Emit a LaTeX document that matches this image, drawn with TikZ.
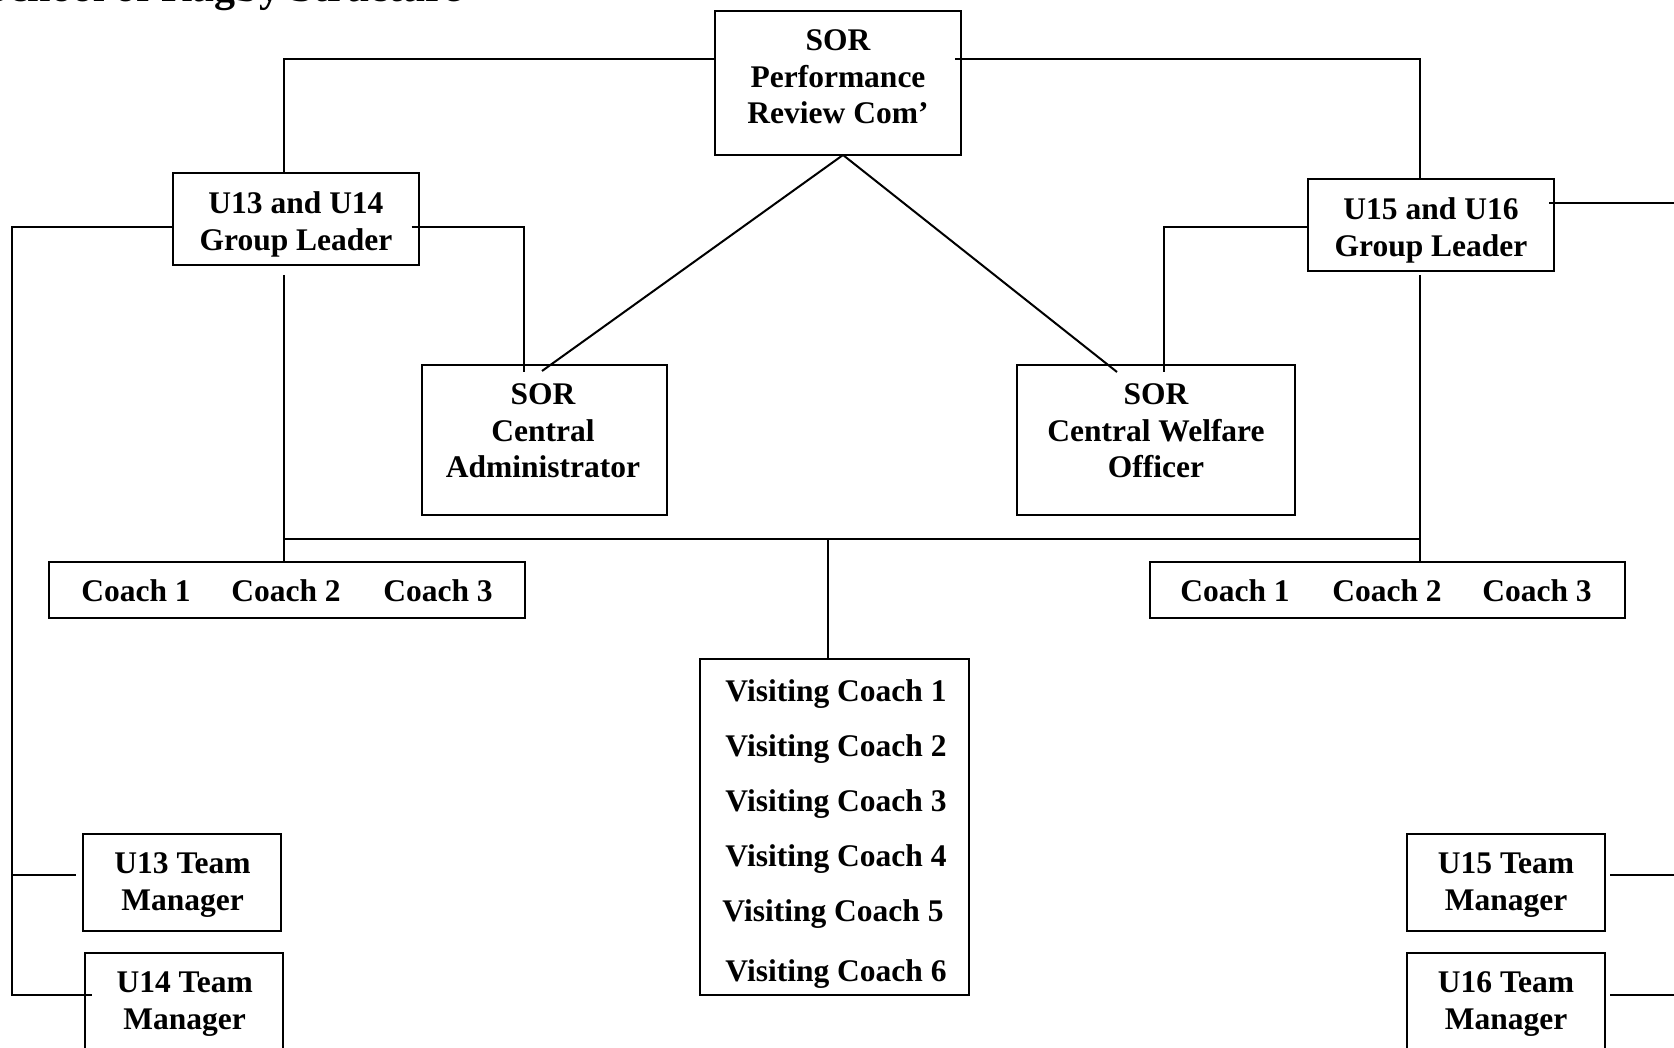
\documentclass[tikz,border=0pt]{standalone}
\usepackage{fontspec}
\setmainfont{Liberation Serif}
\begin{document}
\begin{tikzpicture}[x=1pt,y=-1pt,
  every node/.style={inner sep=0pt, outer sep=0pt, align=center,
    font=\bfseries\fontsize{31.5}{36.5}\selectfont},
  orgbox/.style={draw, line width=2pt, rectangle},
  label text/.style={anchor=north},
  line text/.style={anchor=base},
  link/.style={line width=2pt}]
\clip (0,0) rectangle (1674,1048);

% page heading (runs off the top edge)
\node[anchor=base west, font=\bfseries\fontsize{42}{48}\selectfont] (heading) at (-14,1.5) {School of Rugby Structure};

% ---- boxes ----
\node[orgbox, minimum width=246pt, minimum height=144pt] (perf) at (838,83) {};
\node[label text] (perftxt) at (838,30) {SOR\\Performance\\Review Com’};

\node[orgbox, minimum width=246pt, minimum height=92pt] (gl13) at (295.7,219) {};
\node[label text] (gl13txt) at (296,192) {U13 and U14\\Group Leader};

\node[orgbox, minimum width=246pt, minimum height=92pt] (gl15) at (1431,225) {};
\node[label text] (gl15txt) at (1431,198) {U15 and U16\\Group Leader};

\node[orgbox, minimum width=245pt, minimum height=150pt] (admin) at (544.5,440) {};
\node[label text] (admintxt) at (543,384) {SOR\\Central\\Administrator};

\node[orgbox, minimum width=278pt, minimum height=150pt] (welfare) at (1156,440) {};
\node[label text] (welfaretxt) at (1156,384) {SOR\\Central Welfare\\Officer};

% coach rows
\node[orgbox, minimum width=476pt, minimum height=56pt] (coachL) at (287,590) {};
\node[line text] (cl1) at (136,601) {Coach 1};
\node[line text] (cl2) at (286,601) {Coach 2};
\node[line text] (cl3) at (438,601) {Coach 3};

\node[orgbox, minimum width=475pt, minimum height=56pt] (coachR) at (1387.5,590) {};
\node[line text] (cr1) at (1235,601) {Coach 1};
\node[line text] (cr2) at (1387,601) {Coach 2};
\node[line text] (cr3) at (1537,601) {Coach 3};

% visiting coaches
\node[orgbox, minimum width=269pt, minimum height=336pt] (visit) at (834.5,827) {};
\node[line text] (v1) at (836,701) {Visiting Coach 1};
\node[line text] (v2) at (836,756) {Visiting Coach 2};
\node[line text] (v3) at (836,811) {Visiting Coach 3};
\node[line text] (v4) at (836,866) {Visiting Coach 4};
\node[line text] (v5) at (833,921) {Visiting Coach 5};
\node[line text] (v6) at (836,981) {Visiting Coach 6};

% team managers
\node[orgbox, minimum width=198pt, minimum height=97pt] (tm13) at (182,882.5) {};
\node[label text] (tm13txt) at (182.5,853) {U13 Team\\Manager};
\node[orgbox, minimum width=198pt, minimum height=97pt] (tm14) at (184,1001.5) {};
\node[label text] (tm14txt) at (184.7,972) {U14 Team\\Manager};
\node[orgbox, minimum width=198pt, minimum height=97pt] (tm15) at (1506,882.5) {};
\node[label text] (tm15txt) at (1506,853) {U15 Team\\Manager};
\node[orgbox, minimum width=198pt, minimum height=97pt] (tm16) at (1506,1001.5) {};
\node[label text] (tm16txt) at (1506,972) {U16 Team\\Manager};

% ---- connectors ----
\coordinate (lrail) at (12,227);
\coordinate (mid) at (828,539);
\coordinate (edgeA) at (1674,203);
\coordinate (edgeB) at (1674,875);
\coordinate (edgeC) at (1674,995);

% committee to group leaders
\draw[link] ([yshift=24pt]perf.west) -| ([xshift=-11.7pt]gl13.north);
\draw[link] ([yshift=24pt,xshift=-6pt]perf.east) -| ([xshift=-11pt]gl15.north);

% committee to central staff
\draw[link] ([xshift=5pt]perf.south) -- ([xshift=-2.5pt,yshift=-6pt]admin.north);
\draw[link] ([xshift=5pt]perf.south) -- ([xshift=-39pt,yshift=-7pt]welfare.north);

% group leaders to central staff
\draw[link] ([xshift=-7pt,yshift=-8pt]gl13.east) -| ([xshift=-20.5pt,yshift=-7pt]admin.north);
\draw[link] ([yshift=-2pt]gl15.west) -| ([xshift=8pt,yshift=-7pt]welfare.north);
\draw[link] ([xshift=-5pt,yshift=22pt]gl15.east) -- (edgeA);

% group leaders down to coaches
\draw[link] ([xshift=-11.7pt,yshift=-10pt]gl13.south) -- ([xshift=-3pt]coachL.north);
\draw[link] ([xshift=-11pt,yshift=-4pt]gl15.south) -- ([xshift=32.5pt]coachR.north);
\draw[link] ([xshift=-3pt]coachL.north |- mid) -- ([xshift=32.5pt]coachR.north |- mid);
\draw[link] (mid) -- ([xshift=-6.5pt]visit.north);

% left rail to U13 / U14 managers
\draw[link] ([yshift=-8pt]gl13.west) -- (lrail) |- ([xshift=7pt,yshift=6.5pt]tm14.west);
\draw[link] (lrail |- edgeB) -- ([xshift=-7pt,yshift=7.5pt]tm13.west);

% U15 / U16 managers to the right edge
\draw[link] ([xshift=5pt,yshift=7.5pt]tm15.east) -- (edgeB);
\draw[link] ([xshift=5pt,yshift=6.5pt]tm16.east) -- (edgeC);
\end{tikzpicture}
\end{document}
